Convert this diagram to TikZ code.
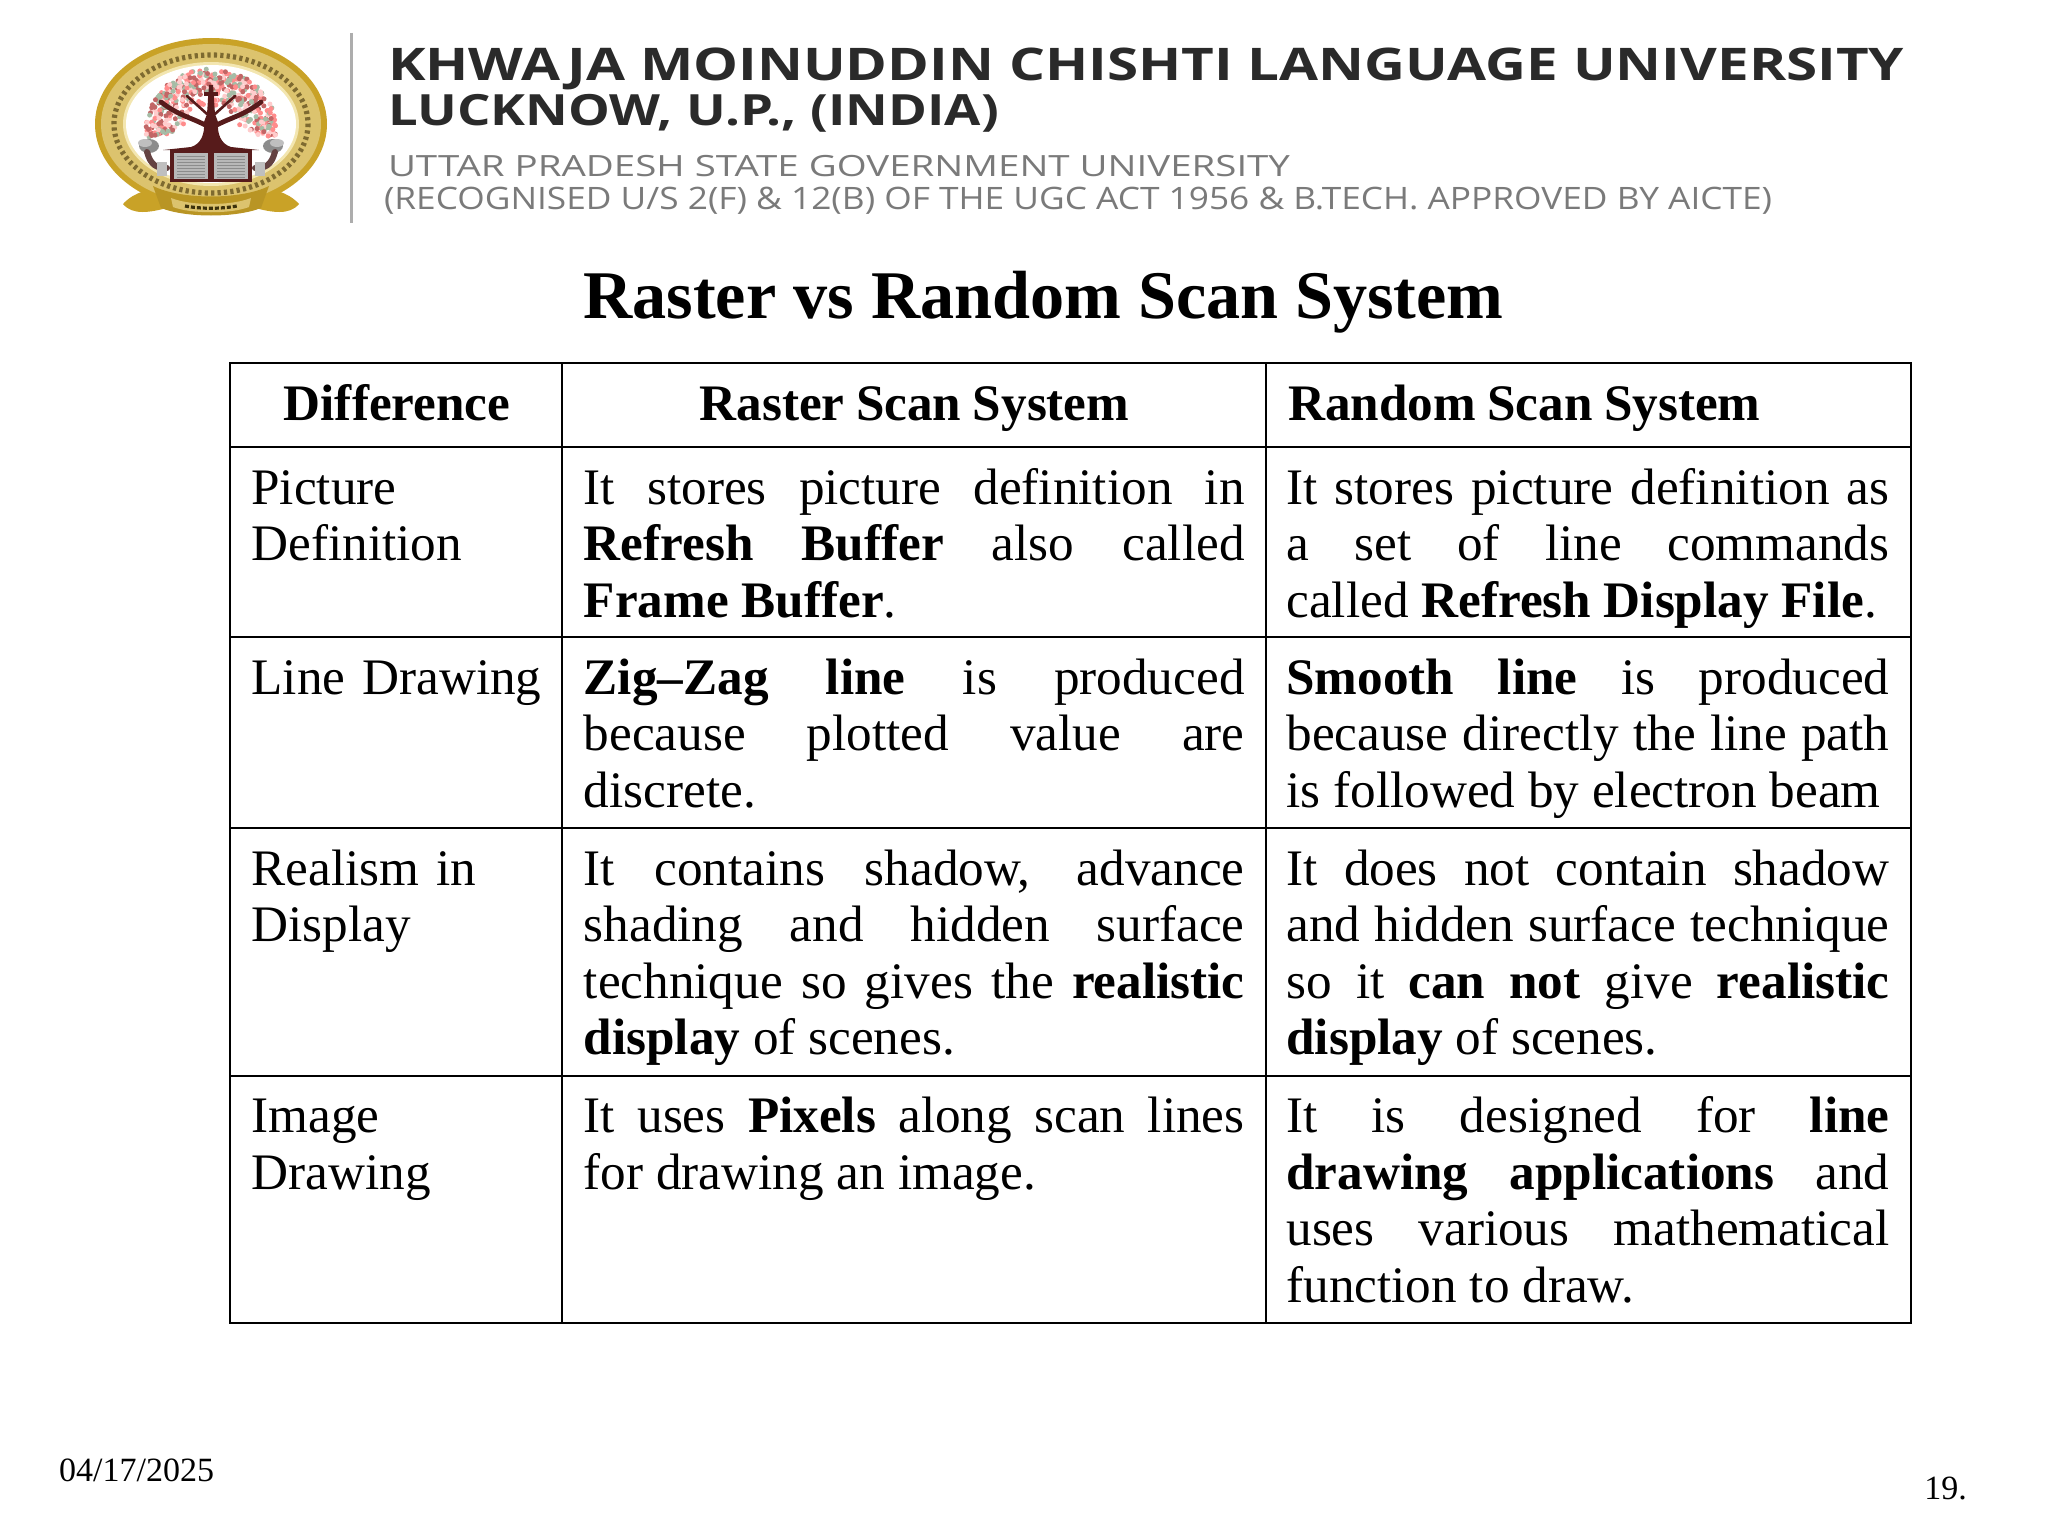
\documentclass[tikz,border=0pt]{standalone}
\usepackage{fontspec}
\usepackage{graphicx}
\setmainfont{Liberation Serif}
\newfontfamily\hdrfont{Open Sans}
\tolerance=9999
\hbadness=10000
\hfuzz=5pt
\definecolor{gold}{HTML}{C9A227}
\definecolor{goldlt}{HTML}{DCC36E}
\definecolor{goldpale}{HTML}{F3E6B0}
\definecolor{ringtext}{HTML}{7E6A30}
\definecolor{maroon}{HTML}{571B1B}
\definecolor{hdrdark}{HTML}{2A2A2A}
\definecolor{hdrgrey}{HTML}{7A7A7A}
\newcommand{\fl}{\rule{0pt}{30pt}}
\newcommand{\cellfont}{\fontsize{25.6}{28.3}\selectfont}
\newcommand{\firstcolfont}{\fontsize{25.6}{28.3}\selectfont\spaceskip 0.22em\relax}
\newcommand{\headfont}{\fontsize{25.6}{28.3}\selectfont\bfseries\spaceskip 0.225em\relax}
\tikzset{
  cellbox/.style={draw=black,line width=1.2pt,rectangle,inner sep=0pt,outer sep=0pt,anchor=north west},
  celltext/.style={anchor=north west,inner sep=0pt,outer sep=0pt,font=\cellfont},
  colone/.style={celltext,text width=150pt,align=left,font=\firstcolfont},
  coltwo/.style={celltext,text width=330.4pt,align=justify},
  colthree/.style={celltext,text width=301.5pt,align=justify},
  headtext/.style={anchor=base,inner sep=0pt,font=\headfont},
  hdrline/.style={anchor=base west,inner sep=0pt,outer sep=0pt,font=\hdrfont},
  small/.style={anchor=base west,inner sep=0pt,font=\fontsize{17}{20}\selectfont}
}
\newcommand{\cellat}[5]{\node[cellbox,minimum width=#4*0.5pt,minimum height=#5*0.5pt] (#1) at (#2,#3) {};}
\begin{document}
\begin{tikzpicture}[x=0.5pt,y=-0.5pt]
\fill[white] (0,0) rectangle (2048,1536);
\useasboundingbox (0,0) rectangle (2048,1536);

% ---------- logo ----------
\begin{scope}[shift={(211,124)}]
  % ribbon tails
  \fill[gold] (-88,80) .. controls (-75,66) and (-62,68) .. (-52,60) -- (-44,84) .. controls (-60,88) and (-78,92) .. (-88,80) -- cycle;
  \fill[gold] (88,80) .. controls (75,66) and (62,68) .. (52,60) -- (44,84) .. controls (60,88) and (78,92) .. (88,80) -- cycle;
  \fill[gold] (0,0) ellipse [x radius=116,y radius=86];
  \fill[goldlt] (0,0) ellipse [x radius=110,y radius=80];
  \draw[ringtext,line width=2.6pt,dash pattern=on 1.6pt off 1.6pt] (0,0) ellipse [x radius=97,y radius=69];
  \fill[goldpale] (0,0) ellipse [x radius=88,y radius=62];
  \fill[white] (0,0) ellipse [x radius=85,y radius=59];
  % foliage
  \pgfmathsetseed{11}
  \foreach \i in {1,...,520}{
    \pgfmathsetmacro{\aa}{172+rnd*196}
    \pgfmathsetmacro{\rr}{0.4+0.6*sqrt(rnd)}
    \pgfmathsetmacro{\cc}{int(rnd*4)}
    \pgfmathsetmacro{\px}{65*\rr*cos(\aa)}
    \pgfmathsetmacro{\py}{5+60*\rr*sin(\aa)}
    \ifnum\cc=0 \def\col{red!45!white}\fi
    \ifnum\cc=1 \def\col{green!25!black!35!white}\fi
    \ifnum\cc=2 \def\col{red!20!white}\fi
    \ifnum\cc=3 \def\col{red!60!black!60!white}\fi
    \fill[\col] (\px,\py) circle [radius=2.5];
  }
  % side figures
  \foreach \s in {-1,1}{
    \begin{scope}[xscale=\s]
      \fill[black!45] (62,22) circle [x radius=10,y radius=7];
      \fill[black!25] (66,19) circle [x radius=7,y radius=4];
      \draw[maroon!70!black!80,line width=3pt,line cap=round] (64,28) .. controls (60,42) and (54,44) .. (44,44);
      \fill[black!25] (44,38) rectangle (54,52);
    \end{scope}
  }
  % tree
  \fill[maroon] (-2,-39) -- (2,-39) -- (4,-10) -- (7,-2) .. controls (6,10) and (10,20) .. (20,23) -- (48,26) -- (-48,26) -- (-20,23) .. controls (-10,20) and (-6,10) .. (-7,-2) -- (-4,-10) -- cycle;
  \draw[maroon,line width=2.4pt,line cap=round] (-4,2) .. controls (-18,-6) and (-32,-8) .. (-50,-22);
  \draw[maroon,line width=2.4pt,line cap=round] (4,2) .. controls (18,-6) and (32,-8) .. (50,-22);
  \draw[maroon,line width=1.3pt,line cap=round] (-4,-10) -- (-24,-28);
  \draw[maroon,line width=1.3pt,line cap=round] (4,-10) -- (24,-28);
  \draw[maroon,line width=1.6pt] (-7,-30) -- (7,-30);
  % book
  \fill[maroon] (-41,26) rectangle (41,58);
  \fill[black!28] (-37,29) rectangle (-3,55);
  \fill[black!28] (3,29) rectangle (37,55);
  \foreach \yy in {32,35,...,53}{
    \draw[black!45,line width=0.5pt] (-34,\yy) -- (-6,\yy);
    \draw[black!45,line width=0.5pt] (6,\yy) -- (34,\yy);
  }
  % ribbon front
  \fill[gold!92!black] (-58,62) .. controls (-30,76) and (30,76) .. (58,62) -- (50,84) .. controls (25,94) and (-25,94) .. (-50,84) -- cycle;
  \fill[goldlt] (-40,74) .. controls (-20,82) and (20,82) .. (40,74) -- (38,83) .. controls (20,90) and (-20,90) .. (-38,83) -- cycle;
  \draw[black!70!gold,line width=1.6pt,dash pattern=on 2pt off 1pt] (-26,82) .. controls (-10,85) and (10,85) .. (26,82);
\end{scope}

% divider
\coordinate (divtop) at (351.5,33);
\coordinate (divbot) at (351.5,223);
\draw[black!32,line width=1.4pt] (divtop) -- (divbot);

% ---------- letterhead ----------
\node[hdrline,text=hdrdark] (h1) at (388,81) {\resizebox{758pt}{16.3pt}{\bfseries KHWAJA MOINUDDIN CHISHTI LANGUAGE UNIVERSITY}};
\node[hdrline,text=hdrdark] (h2) at (388,125.4) {\resizebox{305.5pt}{15.6pt}{\bfseries LUCKNOW, U.P., (INDIA)}};
\node[hdrline,text=hdrgrey] (h3) at (388,176.3) {\resizebox{451pt}{10.6pt}{UTTAR PRADESH STATE GOVERNMENT UNIVERSITY}};
\node[hdrline,text=hdrgrey] (h4) at (384,209) {\resizebox{694pt}{11.2pt}{(RECOGNISED U/S 2(F) \& 12(B) OF THE UGC ACT 1956 \& B.TECH. APPROVED BY AICTE)}};

% ---------- title ----------
\node[anchor=base,inner sep=0pt,font=\fontsize{34.1}{40}\selectfont\bfseries] (title) at (1043.5,318) {Raster vs Random Scan System};

% ---------- table frame ----------
\cellat{a0}{230}{363}{332}{84}
\cellat{b0}{562}{363}{704}{84}
\cellat{c0}{1266}{363}{645}{84}
\cellat{a1}{230}{447}{332}{190}
\cellat{b1}{562}{447}{704}{190}
\cellat{c1}{1266}{447}{645}{190}
\cellat{a2}{230}{637}{332}{191}
\cellat{b2}{562}{637}{704}{191}
\cellat{c2}{1266}{637}{645}{191}
\cellat{a3}{230}{828}{332}{248}
\cellat{b3}{562}{828}{704}{248}
\cellat{c3}{1266}{828}{645}{248}
\cellat{a4}{230}{1076}{332}{247}
\cellat{b4}{562}{1076}{704}{247}
\cellat{c4}{1266}{1076}{645}{247}

% ---------- headers ----------
\node[headtext] (ta0) at (397,420.4) {Difference};
\node[headtext] (tb0) at (914.5,420.4) {Raster Scan System};
\node[headtext,anchor=base west] (tc0) at (1287.7,420.4) {Random Scan System};

% ---------- row 1 ----------
\node[colone] (ta1) at (251.5,444) {\fl Picture\\Definition};
\node[coltwo] (tb1) at (583.8,444) {\fl It stores picture definition in\linebreak \textbf{Refresh Buffer} also called\linebreak \textbf{Frame Buffer}.};
\node[colthree] (tc1) at (1286.4,444) {\fl It stores picture definition as\linebreak a set of line commands\linebreak called \textbf{Refresh Display File}.};

% ---------- row 2 ----------
\node[colone] (ta2) at (251.5,634) {\fl Line Drawing};
\node[coltwo] (tb2) at (583.8,634) {\fl \textbf{Zig--Zag line} is produced\linebreak because plotted value are\linebreak discrete.};
\node[colthree] (tc2) at (1286.4,634) {\fl \textbf{Smooth line} is produced\linebreak because directly the line path\linebreak is followed by electron beam};

% ---------- row 3 ----------
\node[colone] (ta3) at (251.5,825) {\fl Realism in\\Display};
\node[coltwo] (tb3) at (583.8,825) {\fl It contains shadow, advance\linebreak shading and hidden surface\linebreak technique so gives the \textbf{realistic}\linebreak \textbf{display} of scenes.};
\node[colthree] (tc3) at (1286.4,825) {\fl It does not contain shadow\linebreak and hidden surface technique\linebreak so it \textbf{can not} give \textbf{realistic}\linebreak \textbf{display} of scenes.};

% ---------- row 4 ----------
\node[colone] (ta4) at (251.5,1072.5) {\fl Image\\Drawing};
\node[coltwo] (tb4) at (583.8,1072.5) {\fl It uses \textbf{Pixels} along scan lines\linebreak for drawing an image.};
\node[colthree] (tc4) at (1286.4,1072.5) {\fl It is designed for \textbf{line}\linebreak \textbf{drawing applications} and\linebreak uses various mathematical\linebreak function to draw.};

% ---------- footer ----------
\node[small] (date) at (58.8,1481) {04/17/2025};
\node[small] (page) at (1924,1499) {19.};
\end{tikzpicture}
\end{document}
